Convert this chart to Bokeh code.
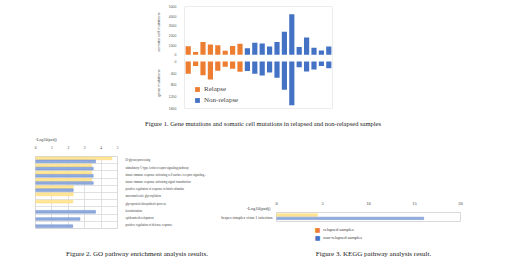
from bokeh.plotting import figure
from bokeh.models import Range1d, FactorRange, FixedTicker, Span, Label, Spacer, ColumnDataSource
from bokeh.layouts import column, row
from bokeh.transform import dodge
from bokeh.embed import file_html
from bokeh.resources import INLINE

# ---------------- data ----------------
relapse_samples = ["R1", "R2", "R3", "R4", "R5", "R6", "R7", "R8"]
nonrelapse_samples = ["N1", "N2", "N3", "N4", "N5", "N6", "N7", "N8", "N9", "N10", "N11", "N12"]
relapse_somatic = [880, 290, 1320, 1070, 1000, 410, 900, 1140]
nonrelapse_somatic = [690, 1260, 1180, 870, 1320, 2390, 4200, 800, 1780, 720, 450, 870]
relapse_gene = [420, 155, 470, 610, 315, 175, 250, 350]
nonrelapse_gene = [320, 415, 475, 378, 552, 958, 1487, 200, 338, 270, 150, 230]
somatic_ticks = [0, 1000, 2000, 3000, 4000, 5000]
gene_ticks = [0, 400, 800, 1200, 1600]

go_terms = [
    "O-glycan processing",
    "stimulatory C-type lectin receptor signaling pathway",
    "innate immune response activating cell surface receptor signaling...",
    "innate immune response activating signal transduction",
    "positive regulation of response to biotic stimulus",
    "macromolecule glycosylation",
    "glycoprotein biosynthetic process",
    "keratinization",
    "epidermis development",
    "positive regulation of defense response",
]
nan = float("nan")
go_relapsed = [4.66, 3.42, 3.42, 3.42, 2.3, 2.3, 2.27, nan, nan, nan]
go_nonrelapsed = [3.66, 3.52, 3.52, 3.52, 2.3, nan, nan, 3.66, 2.71, 2.27]
go_ticks = [0, 1, 2, 3, 4, 5]

kegg_terms = ["herpes simplex virus 1 infection"]
kegg_relapsed = [4.45]
kegg_nonrelapsed = [16.0]
kegg_ticks = [0, 5, 10, 15, 20]

axis_title = "-Log10(padj)"
series_labels = ["relapsed samples", "non-relapsed samples"]
caption1 = "Figure 1. Gene mutations and somatic cell mutations in relapsed and non-relapsed samples"
caption2 = "Figure 2. GO pathway enrichment analysis results."
caption3 = "Figure 3. KEGG pathway analysis result."

ORANGE = "#ED7D31"
BLUE = "#4472C4"
YELLOW_F = "#FFE699"
BLUE_F = "#8FAADC"
BOX = "#D9D9D9"
TXT = "#595959"
DARK = "#404040"
SANS = "Liberation Sans"
SERIF = "Liberation Serif"

samples = relapse_samples + nonrelapse_samples


def base(**kw):
    p = figure(output_backend="svg", toolbar_location=None, title=None, **kw)
    p.outline_line_color = None
    p.grid.visible = False
    p.background_fill_color = "white"
    p.border_fill_color = "white"
    return p


def strip(w, h):
    return base(width=w, height=h, x_range=Range1d(0, 1), y_range=Range1d(0, 1),
                x_axis_location=None, y_axis_location=None, min_border=0)


def text(p, x, y, s, size, align="left", color=DARK, font=SERIF):
    p.add_layout(Label(x=x, y=y, x_units="screen", y_units="screen", text=s,
                       text_align=align, text_baseline="middle", text_font=font,
                       text_font_size=size, text_color=color))


def style_yaxis(ax, label, ticks):
    ax.ticker = FixedTicker(ticks=ticks)
    ax.axis_label = label
    ax.axis_label_text_font = SANS
    ax.axis_label_text_font_size = "4px"
    ax.axis_label_text_font_style = "normal"
    ax.axis_label_text_color = TXT
    ax.axis_label_standoff = 5
    ax.major_label_text_font = SANS
    ax.major_label_text_font_size = "3.5px"
    ax.major_label_text_color = TXT
    ax.major_label_standoff = 2
    ax.major_tick_line_color = None
    ax.minor_tick_line_color = None
    ax.axis_line_color = None


def plain_axis(ax, size, standoff):
    ax.major_label_text_font = SERIF
    ax.major_label_text_font_size = size
    ax.major_label_text_color = DARK
    ax.major_label_standoff = standoff
    ax.major_tick_line_color = None
    ax.minor_tick_line_color = None
    ax.axis_line_color = None


# ---------------- Figure 1 : top panel (somatic) ----------------
top = base(width=182, height=57, x_range=FactorRange(factors=samples),
           y_range=Range1d(-280, 5000), x_axis_location=None,
           min_border_left=30, min_border_right=2, min_border_top=6, min_border_bottom=0)
top.vbar(x=relapse_samples, top=relapse_somatic, width=0.7, fill_color=ORANGE, line_color=None)
top.vbar(x=nonrelapse_samples, top=nonrelapse_somatic, width=0.7, fill_color=BLUE, line_color=None)
style_yaxis(top.yaxis[0], "somatic cell mutations", somatic_ticks)
top.add_layout(Span(location=0, dimension="height", line_color=BOX, line_width=1))
top.add_layout(Span(location=len(samples), dimension="height", line_color=BOX, line_width=1))
top.add_layout(Span(location=max(somatic_ticks), dimension="width", line_color=BOX, line_width=1))

# ---------------- Figure 1 : bottom panel (gene) ----------------
bot = base(width=182, height=55, x_range=top.x_range,
           y_range=Range1d(1600, -136), x_axis_location=None,
           min_border_left=30, min_border_right=2, min_border_top=0, min_border_bottom=4)
bot.vbar(x=relapse_samples, top=relapse_gene, width=0.7, fill_color=ORANGE, line_color=None,
         legend_label="Relapse")
bot.vbar(x=nonrelapse_samples, top=nonrelapse_gene, width=0.7, fill_color=BLUE, line_color=None,
         legend_label="Non-relapse")
style_yaxis(bot.yaxis[0], "gene mutations", gene_ticks)
bot.add_layout(Span(location=0, dimension="height", line_color=BOX, line_width=1))
bot.add_layout(Span(location=len(samples), dimension="height", line_color=BOX, line_width=1))
bot.add_layout(Span(location=max(gene_ticks), dimension="width", line_color=BOX, line_width=1))
lg = bot.legend[0]
lg.location = (10, 4)
lg.background_fill_alpha = 0
lg.border_line_color = None
lg.padding = 0
lg.margin = 0
lg.spacing = 3
lg.glyph_width = 6
lg.glyph_height = 6
lg.label_height = 6
lg.label_standoff = 4
lg.label_text_font = SERIF
lg.label_text_font_size = "7px"
lg.label_text_color = DARK

# ---------------- caption 1 ----------------
cap1 = strip(520, 22)
text(cap1, 262.5, 11, caption1, "6.5px", "center", "#222222")

# ---------------- Figure 2 : GO ----------------
go_pos = list(range(1, len(go_terms) + 1))
go_src = ColumnDataSource(dict(pos=go_pos, rel=go_relapsed, non=go_nonrelapsed))
go = figure(width=215, height=95, x_range=Range1d(go_ticks[0], go_ticks[-1]),
            y_range=Range1d(len(go_terms) + 0.5, 0.5),
            x_axis_location="above", y_axis_location="right",
            output_backend="svg", toolbar_location=None, title=axis_title,
            min_border_left=35, min_border_right=98, min_border_top=14, min_border_bottom=1)
go.outline_line_color = BOX
go.hbar(y=dodge("pos", -0.24), right="rel", height=0.38, source=go_src,
        fill_color=YELLOW_F, line_color="#FFD966", line_width=0.5)
go.hbar(y=dodge("pos", 0.18), right="non", height=0.38, source=go_src,
        fill_color=BLUE_F, line_color="#6F8FCF", line_width=0.5)
go.xgrid.ticker = FixedTicker(ticks=go_ticks[1:-1])
go.ygrid.ticker = FixedTicker(ticks=[p + 0.5 for p in go_pos[:-1]])
go.grid.grid_line_color = BOX
go.grid.grid_line_width = 0.8
xa = go.xaxis[0]
xa.ticker = FixedTicker(ticks=go_ticks)
plain_axis(xa, "3.5px", 2)
ya = go.yaxis[0]
ya.ticker = FixedTicker(ticks=go_pos)
ya.major_label_overrides = {p: t for p, t in zip(go_pos, go_terms)}
plain_axis(ya, "3px", 2)
go.title.align = "left"
go.title.text_font = SERIF
go.title.text_font_size = "4px"
go.title.text_font_style = "normal"
go.title.text_color = DARK
go.title.standoff = 1

# GO legend (below the chart)
gleg = strip(215, 12)
text(gleg, 100.3, 9.4, "\u25A0", "4.5px", "center", ORANGE, "DejaVu Sans")
text(gleg, 100.3, 3.0, "\u25A0", "4.5px", "center", BLUE, "DejaVu Sans")
text(gleg, 106, 9.4, series_labels[0], "3.2px")
text(gleg, 106, 3.0, series_labels[1], "3.2px")

# ---------------- Figure 3 : KEGG ----------------
kg_src = ColumnDataSource(dict(term=kegg_terms, rel=kegg_relapsed, non=kegg_nonrelapsed))
kg = figure(width=194, height=24, x_range=Range1d(kegg_ticks[0], kegg_ticks[-1]),
            y_range=FactorRange(factors=kegg_terms), x_axis_location="above",
            y_axis_location=None, output_backend="svg", toolbar_location=None, title=None,
            min_border_left=3, min_border_right=7, min_border_top=14, min_border_bottom=1)
kg.outline_line_color = BOX
kg.grid.visible = False
kg.hbar(y=dodge("term", 0.22, range=kg.y_range), right="rel", height=0.27, source=kg_src,
        fill_color=YELLOW_F, line_color="#FFD966", line_width=0.5)
kg.hbar(y=dodge("term", -0.15, range=kg.y_range), right="non", height=0.27, source=kg_src,
        fill_color=BLUE_F, line_color="#6F8FCF", line_width=0.5)
kx = kg.xaxis[0]
kx.ticker = FixedTicker(ticks=kegg_ticks)
plain_axis(kx, "4.5px", 2)

# KEGG left labels (axis title on tick row, category name beside the bars)
kleft = strip(58, 24)
text(kleft, 55, 14.3, axis_title, "4.5px", "right")
text(kleft, 57, 5.5, kegg_terms[0], "4px", "right")

# KEGG legend (below the chart)
kleg = strip(255, 19)
text(kleg, 102, 12.4, "\u25A0", "6px", "center", ORANGE, "DejaVu Sans")
text(kleg, 102, 4.2, "\u25A0", "6px", "center", BLUE, "DejaVu Sans")
text(kleg, 107.7, 12.4, series_labels[0], "4.5px")
text(kleg, 107.7, 4.2, series_labels[1], "4.5px")

# ---------------- captions 2/3 ----------------
cap23 = strip(520, 20)
text(cap23, 136.5, 7.5, caption2, "7px", "center", "#222222")
text(cap23, 373, 7.5, caption3, "7px", "center", "#222222")

root = column(
    row(Spacer(width=152, height=112), column(top, bot)),
    cap1,
    row(column(go, gleg),
        column(Spacer(width=255, height=64), row(column(kleft), column(kg)), kleg)),
    cap23,
)

open("out.html", "w").write(file_html(root, INLINE))
